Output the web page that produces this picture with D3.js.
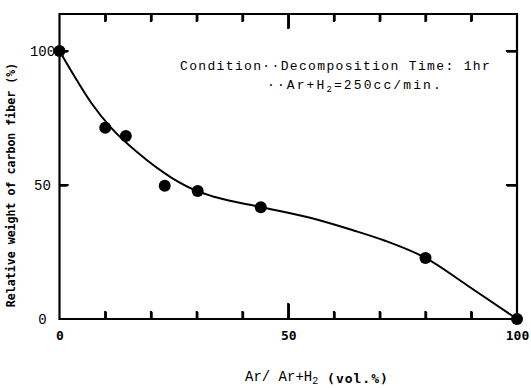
<!DOCTYPE html>
<html>
<head>
<meta charset="utf-8">
<script src="https://cdn.jsdelivr.net/npm/d3@7/dist/d3.min.js"></script>
<style>
  html, body { margin: 0; padding: 0; background: #fff; }
  svg { display: block; }
</style>
</head>
<body>
<svg id="chart" width="531" height="388"></svg>
<script>
// Measured points (Ar fraction vol.%, relative weight %)
const arFraction = [0, 10, 14.5, 23, 30.2, 44, 80, 100];
const relWeight  = [100, 71.4, 68.3, 49.7, 47.8, 41.7, 22.8, 0];

// Hand-drawn trend curve
const curveX = [0, 4, 7, 11.4, 17.2, 24.6, 30.3, 34, 44, 55, 64, 71, 80, 89, 100];
const curveY = [100, 88.5, 80.5, 71.1, 61.9, 52.6, 47.6, 45.5, 41.8, 37.7, 33.2, 29.3, 22.8, 12.7, 0];

// Axis ticks and labels
const xMinorTicks = [10, 20, 30, 40, 60, 70, 80, 90];
const xMajorTicks = [50];
const xTickLabels = [0, 50, 100];
const yTicks = [50, 100];
const yTickLabels = [0, 50, 100];

const svg = d3.select("#chart");
const mLeft = 59.5, mRight = 517, mTop = 14, mBottom = 319;

const x = d3.scaleLinear().domain([0, 100]).range([mLeft, mRight]);
const y = d3.scaleLinear().domain([0, 100]).range([mBottom, 51]);

svg.append("rect").attr("width", 531).attr("height", 388).attr("fill", "#fff");

// Tick labels
const xLab = svg.append("g").attr("transform", `translate(0,${mBottom})`)
  .call(d3.axisBottom(x).tickValues(xTickLabels).tickSize(0).tickPadding(12).tickFormat(d3.format("d")));
xLab.select(".domain").remove();
xLab.selectAll("text")
  .attr("font-family", "'DejaVu Sans Mono', monospace")
  .attr("font-weight", "bold").attr("font-size", 13).attr("fill", "#000");

const yLab = svg.append("g").attr("transform", `translate(${mLeft},0)`)
  .call(d3.axisLeft(y).tickValues(yTickLabels).tickSize(0).tickPadding(3).tickFormat(d3.format("d")));
yLab.select(".domain").remove();
yLab.selectAll("text")
  .attr("text-anchor", "middle").attr("x", -17)
  .attr("font-family", "'Liberation Mono', monospace")
  .attr("font-size", 14).attr("fill", "#000");

// Frame and inward ticks built as one path from the scales
const fp = d3.path();
fp.moveTo(mLeft, mTop); fp.lineTo(mRight, mTop); fp.lineTo(mRight, mBottom);
fp.lineTo(mLeft, mBottom); fp.closePath();
function vTick(v, yEdge, len) { fp.moveTo(x(v), yEdge); fp.lineTo(x(v), yEdge + len); }
function hTick(v, xEdge, len) { fp.moveTo(xEdge, y(v)); fp.lineTo(xEdge + len, y(v)); }
xMinorTicks.forEach(v => { vTick(v, mBottom, -7); vTick(v, mTop, 7); });
xMajorTicks.forEach(v => { vTick(v, mBottom, -15); vTick(v, mTop, 14); });
yTicks.forEach(v => { hTick(v, mLeft, 8); hTick(v, mRight, -10); });
svg.append("path")
  .attr("d", fp.toString())
  .attr("fill", "none").attr("stroke", "#000").attr("stroke-width", 2.2)
  .attr("stroke-linecap", "square");

// Same inward ticks, also through D3 axes
function axisTicks(axis, tx, ty) {
  const g = svg.append("g").attr("transform", `translate(${tx},${ty})`).call(axis);
  g.select(".domain").remove();
  g.selectAll(".tick line").attr("stroke", "#000").attr("stroke-width", 2.4);
  g.selectAll(".tick text").remove();
}
axisTicks(d3.axisBottom(x).tickValues(xMinorTicks).tickSize(-7), 0, mBottom);
axisTicks(d3.axisBottom(x).tickValues(xMajorTicks).tickSize(-15), 0, mBottom);
axisTicks(d3.axisTop(x).tickValues(xMinorTicks).tickSize(-7), 0, mTop);
axisTicks(d3.axisTop(x).tickValues(xMajorTicks).tickSize(-14), 0, mTop);
axisTicks(d3.axisLeft(y).tickValues(yTicks).tickSize(-8), mLeft, 0);
axisTicks(d3.axisRight(y).tickValues(yTicks).tickSize(-10), mRight, 0);

// Curve
const curvePts = curveX.map((d, i) => [d, curveY[i]]);
svg.append("path")
  .datum(curvePts)
  .attr("fill", "none").attr("stroke", "#000").attr("stroke-width", 2)
  .attr("d", d3.line().x(d => x(d[0])).y(d => y(d[1])).curve(d3.curveMonotoneX));

// Markers
svg.append("g").selectAll("circle")
  .data(arFraction.map((d, i) => [d, relWeight[i]]))
  .join("circle")
  .attr("cx", d => x(d[0])).attr("cy", d => y(d[1]))
  .attr("r", 6).attr("fill", "#000");

// Annotation
svg.append("text")
  .attr("x", 180).attr("y", 70)
  .attr("font-family", "'Liberation Mono', monospace")
  .attr("font-size", 13).attr("letter-spacing", 1.35).attr("fill", "#000")
  .text("Condition··Decomposition Time: 1hr");
const ann2 = svg.append("text")
  .attr("x", 267).attr("y", 89)
  .attr("font-family", "'Liberation Mono', monospace")
  .attr("font-size", 13).attr("letter-spacing", 2.1).attr("fill", "#000");
ann2.append("tspan").text("··Ar+H");
ann2.append("tspan").attr("font-size", 9).attr("dy", 3).text("2");
ann2.append("tspan").attr("dy", -3).text("=250cc/min.");

// Y axis title
svg.append("text")
  .attr("transform", "translate(15,185) rotate(-90)")
  .attr("text-anchor", "middle")
  .attr("font-family", "'DejaVu Sans Mono', monospace")
  .attr("font-weight", "bold").attr("font-size", 11.6).attr("fill", "#000")
  .text("Relative weight of carbon fiber (%)");

// X axis title
const xt = svg.append("text")
  .attr("x", 245).attr("y", 381)
  .attr("fill", "#000");
xt.append("tspan")
  .attr("font-family", "'Liberation Mono', monospace").attr("font-size", 14)
  .text("Ar/ Ar+H");
xt.append("tspan")
  .attr("font-family", "'Liberation Mono', monospace").attr("font-size", 10).attr("dy", 2.5)
  .text("2");
xt.append("tspan")
  .attr("font-family", "'DejaVu Sans Mono', monospace").attr("font-weight", "bold")
  .attr("font-size", 13).attr("dy", -1).attr("letter-spacing", 1)
  .text(" (vol.%)");
</script>
</body>
</html>
